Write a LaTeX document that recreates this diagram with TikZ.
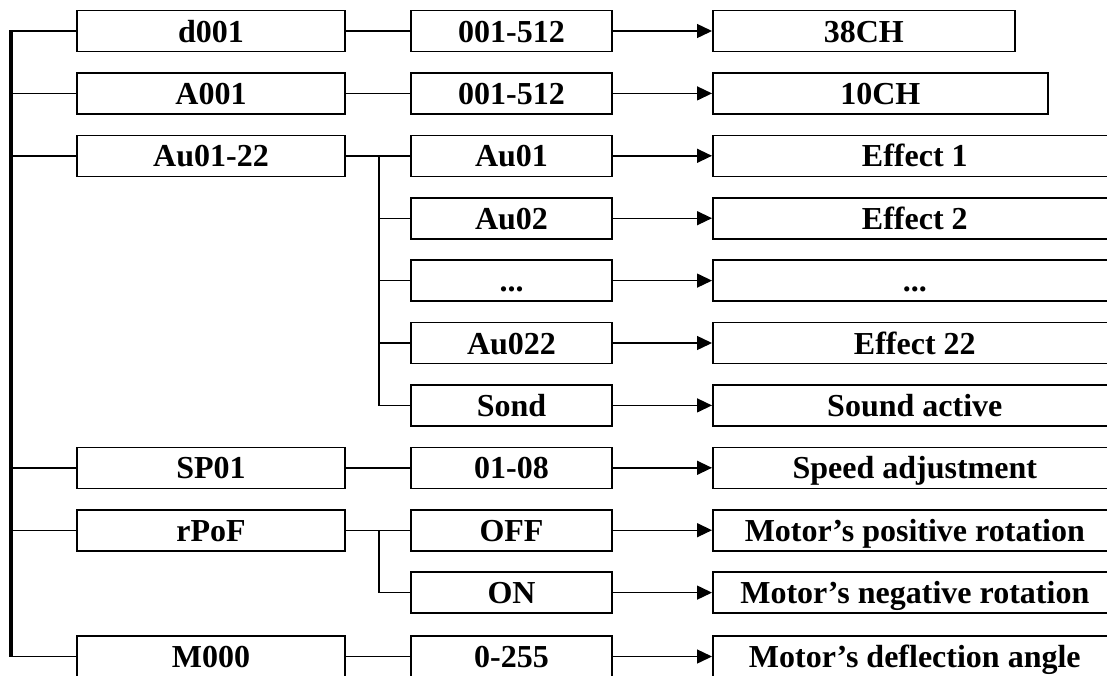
\documentclass[tikz,border=0pt]{standalone}
\usepackage{fontspec}
\setmainfont{Liberation Serif}
\usetikzlibrary{arrows.meta}

\begin{document}
\begin{tikzpicture}[
      x=1pt, y=-1pt,
      param/.style={draw, rectangle, line width=1.6pt, minimum height=41pt, inner sep=0pt, text height=24pt, text depth=2pt, text centered, font=\fontsize{32}{36}\selectfont\bfseries}, % cuadros
      code/.style={param, minimum width=268pt},
      value/.style={param, minimum width=201pt},
      result/.style={param, anchor=west, minimum width=404pt},
      link/.style={line width=1.4pt},
      arr/.style={link, -{Triangle[length=15pt, width=14pt]}}
    ]
    \useasboundingbox (0,0) rectangle (1107,675);
    % Codes
    \node [code] (d001) at (211,31) {d001};
    \node [code] (a001) at (211,93.4) {A001};
    \node [code] (au) at (211,155.8) {Au01-22};
    \node [code] (sp) at (211,467.8) {SP01};
    \node [code] (rpof) at (211,530.2) {rPoF};
    \node [code] (m000) at (211,656.5) {M000};
    % Values
    \node [value] (dval) at (511.5,31) {001-512};
    \node [value] (aval) at (511.5,93.4) {001-512};
    \node [value] (au01) at (511.5,155.8) {Au01};
    \node [value] (au02) at (511.5,218.2) {Au02};
    \node [value] (audots) at (511.5,280.6) {...};
    \node [value] (au22) at (511.5,343) {Au022};
    \node [value] (sond) at (511.5,405.4) {Sond};
    \node [value] (spval) at (511.5,467.8) {01-08};
    \node [value] (off) at (511.5,530.2) {OFF};
    \node [value] (on) at (511.5,592.6) {ON};
    \node [value] (mval) at (511.5,656.5) {0-255};
    % Results
    \node [result, minimum width=302pt] (dout) at (712,31) {38CH};
    \node [result, minimum width=335pt] (aout) at (712,93.4) {10CH};
    \node [result] (e1) at (712,155.8) {Effect 1};
    \node [result] (e2) at (712,218.2) {Effect 2};
    \node [result] (edots) at (712,280.6) {...};
    \node [result] (e22) at (712,343) {Effect 22};
    \node [result] (sound) at (712,405.4) {Sound active};
    \node [result] (speed) at (712,467.8) {Speed adjustment};
    \node [result] (pos) at (712,530.2) {Motor’s positive rotation};
    \node [result] (neg) at (712,592.6) {Motor’s negative rotation};
    \node [result] (angle) at (712,656.5) {Motor’s deflection angle};
    % Main bar
    \coordinate (bartop) at (10.5,31);
    \coordinate (barbot) at (10.5,656.5);
    \draw [line width=4pt] ([yshift=0.7pt]bartop) -- ([yshift=-0.7pt]barbot);
    \foreach \n in {d001,a001,au,sp,rpof,m000}
      \draw [link] (bartop |- \n.west) -- (\n.west);
    % Code to value
    \draw [link] (d001) -- (dval);
    \draw [link] (a001) -- (aval);
    \draw [link] (au) -- (au01);
    \draw [link] (sp) -- (spval);
    \draw [link] (rpof) -- (off);
    \draw [link] (m000) -- (mval);
    % Branches
    \coordinate (jau) at (379,155.8);
    \draw [link] (jau) |- (sond.west);
    \foreach \n in {au02,audots,au22}
      \draw [link] (jau |- \n.west) -- (\n.west);
    \coordinate (jrp) at (379,530.2);
    \draw [link] (jrp) |- (on.west);
    % Value to result
    \draw [arr] (dval) -- (dout);
    \draw [arr] (aval) -- (aout);
    \draw [arr] (au01) -- (e1);
    \draw [arr] (au02) -- (e2);
    \draw [arr] (audots) -- (edots);
    \draw [arr] (au22) -- (e22);
    \draw [arr] (sond) -- (sound);
    \draw [arr] (spval) -- (speed);
    \draw [arr] (off) -- (pos);
    \draw [arr] (on) -- (neg);
    \draw [arr] (mval) -- (angle);
\end{tikzpicture}
\end{document}
